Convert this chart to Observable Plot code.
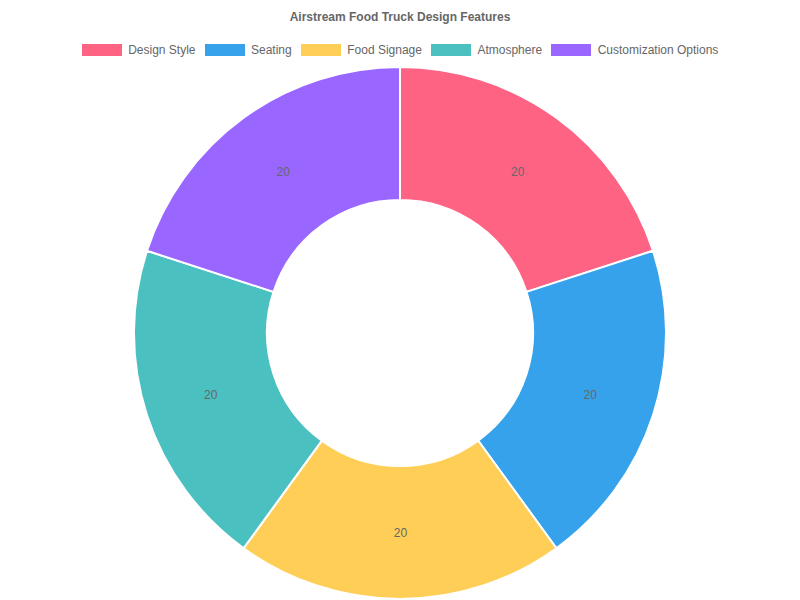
<!DOCTYPE html>
<html>
<head>
<meta charset="utf-8">
<script src="https://cdn.jsdelivr.net/npm/d3@7"></script>
<script src="https://cdn.jsdelivr.net/npm/@observablehq/plot@0.6"></script>
<style>
  body { margin: 0; background: #fff; font-family: "Liberation Sans", Arial, sans-serif; }
  #wrap { width: 800px; height: 600px; position: relative; }
  #title { height: 34px; line-height: 34px; text-align: center; font-size: 12px; font-weight: bold; color: #666; }
  #legend { height: 32px; display: flex; justify-content: center; align-items: center; font-size: 12px; color: #666; }
  .item { display: flex; align-items: center; margin: 0 4.5px; }
  .box { width: 40px; height: 12px; margin-right: 6.5px; }
  svg { display: block; }
</style>
</head>
<body>
<div id="wrap">
  <div id="title"></div>
  <div id="legend"></div>
  <div id="chart"></div>
</div>
<script>
const titleText = "Airstream Food Truck Design Features";
const categories = ["Design Style", "Seating", "Food Signage", "Atmosphere", "Customization Options"];
const values = [20, 20, 20, 20, 20];
const colors = ["rgb(255,99,132)", "rgb(54,162,235)", "rgb(255,206,86)", "rgb(75,192,192)", "rgb(153,102,255)"];

document.getElementById("title").textContent = titleText;
const legend = document.getElementById("legend");
categories.forEach((c, i) => {
  const it = document.createElement("div"); it.className = "item";
  const b = document.createElement("div"); b.className = "box"; b.style.background = colors[i];
  const t = document.createElement("span"); t.textContent = c;
  it.appendChild(b); it.appendChild(t); legend.appendChild(it);
});

const data = categories.map((c, i) => ({category: c, value: values[i]}));
const arcs = d3.pie().sort(null).value(d => d.value)(data);
const innerFrac = 0.5;
const labels = arcs.map(a => {
  const ang = (a.startAngle + a.endAngle) / 2;
  const r = (1 + innerFrac) / 2;
  return {x: r * Math.sin(ang), y: r * Math.cos(ang), text: String(a.data.value)};
});

const W = 800, H = 534, cx = 400, cy = 267, R = 266;

const chart = Plot.plot({
  width: W, height: H,
  margin: 0,
  x: {domain: [-1, 1], range: [cx - R, cx + R], axis: null},
  y: {domain: [-1, 1], range: [cy + R, cy - R], axis: null},
  color: {domain: categories, range: colors},
  marks: [
    Plot.dot(arcs, {
      x: () => 0, y: () => 0, fill: d => d.data.category,
      render(index, scales, values, dimensions, context) {
        const g = d3.create("svg:g");
        const rOut = scales.x(1) - scales.x(0);
        const rIn = rOut * innerFrac;
        const x0 = scales.x(0), y0 = scales.y(0);
        const arcGen = d3.arc().innerRadius(rIn).outerRadius(rOut);
        for (const i of index) {
          g.append("path")
            .attr("transform", `translate(${x0},${y0})`)
            .attr("d", arcGen(arcs[i]))
            .attr("fill", scales.color(arcs[i].data.category))
            .attr("stroke", "#fff")
            .attr("stroke-width", 2);
        }
        return g.node();
      }
    }),
    Plot.text(labels, {x: "x", y: "y", text: "text", fill: "#666", fontSize: 12, fontFamily: "Liberation Sans, Arial, sans-serif"})
  ]
});
document.getElementById("chart").appendChild(chart);
</script>
</body>
</html>
